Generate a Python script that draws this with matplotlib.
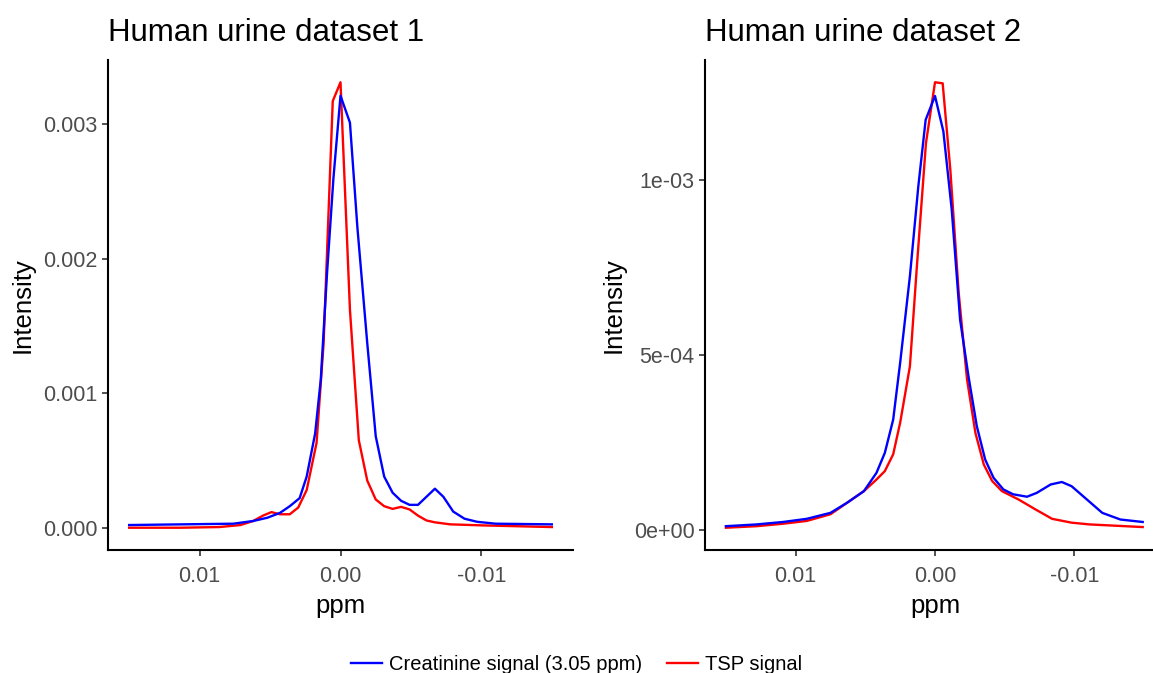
import matplotlib
matplotlib.use("Agg")
import matplotlib.pyplot as plt
from matplotlib.lines import Line2D

plt.rcParams['font.family'] = ['Liberation Sans', 'DejaVu Sans']
plt.rcParams['axes.unicode_minus'] = False

# dataset 1, creatinine signal (blue)
ppm_cr1 = [0.015, 0.0076, 0.0062, 0.0052, 0.0043, 0.0036, 0.0029, 0.0024, 0.0018,
           0.0014, 0.00095, 0.0005, 0.0, -0.00067, -0.0012, -0.0019, -0.0025,
           -0.0031, -0.0037, -0.0043, -0.0049, -0.0055, -0.0061, -0.0067, -0.0073,
           -0.008, -0.0088, -0.0097, -0.011, -0.015]
int_cr1 = [0.00002, 0.00003, 0.00005, 0.000074, 0.00011, 0.00016, 0.00022, 0.00038,
           0.0007, 0.0011, 0.0019, 0.0026, 0.00321, 0.00301, 0.00223, 0.00137,
           0.00068, 0.00038, 0.00026, 0.0002, 0.00017, 0.00017, 0.00023, 0.00029,
           0.00023, 0.00012, 0.000067, 0.000044, 0.00003, 0.000025]

# dataset 1, TSP signal (red)
ppm_tsp1 = [0.015, 0.0114, 0.0086, 0.0071, 0.0062, 0.0055, 0.0049, 0.0043, 0.0036,
            0.003, 0.0024, 0.0017, 0.0012, 0.00055, 0.0, -0.00067, -0.0013, -0.0019,
            -0.0025, -0.0031, -0.0037, -0.0043, -0.0049, -0.0055, -0.0061, -0.0067,
            -0.0078, -0.0102, -0.015]
int_tsp1 = [0.0, 0.0, 0.000005, 0.00002, 0.00005, 0.00009, 0.000116, 0.0001, 0.0001,
            0.00015, 0.00028, 0.00063, 0.00137, 0.00317, 0.00331, 0.00162, 0.00065,
            0.00035, 0.00021, 0.00016, 0.00014, 0.000155, 0.000136, 0.00009, 0.000054,
            0.00004, 0.000025, 0.000017, 0.000005]

# dataset 2, creatinine signal (blue)
ppm_cr2 = [0.015, 0.0128, 0.0109, 0.0092, 0.0075, 0.0063, 0.0051, 0.0042, 0.0036,
           0.003, 0.0025, 0.0018, 0.0012, 0.00067, 0.0, -0.0006, -0.0012, -0.0018,
           -0.0024, -0.003, -0.0036, -0.0042, -0.0049, -0.0056, -0.0066, -0.0073,
           -0.0083, -0.0091, -0.0098, -0.0109, -0.012, -0.0133, -0.0149]
int_cr2 = [1.2e-5, 1.7e-5, 2.4e-5, 3.3e-5, 5.0e-5, 7.9e-5, 1.12e-4, 1.64e-4, 2.21e-4,
           3.16e-4, 4.78e-4, 7.25e-4, 9.8e-4, 1.171e-3, 1.239e-3, 1.138e-3, 9.15e-4,
           6.01e-4, 4.4e-4, 2.97e-4, 2.02e-4, 1.5e-4, 1.17e-4, 1.03e-4, 9.6e-5, 1.07e-4,
           1.31e-4, 1.38e-4, 1.26e-4, 8.8e-5, 5.0e-5, 3.1e-5, 2.4e-5]

# dataset 2, TSP signal (red)
ppm_tsp2 = [0.015, 0.0128, 0.0109, 0.0092, 0.0075, 0.0063, 0.0051, 0.0042, 0.0036,
            0.003, 0.0025, 0.0018, 0.0013, 0.00065, 0.0, -0.00055, -0.0011, -0.0017,
            -0.0023, -0.0029, -0.0035, -0.0041, -0.0048, -0.006, -0.0072, -0.0084,
            -0.0098, -0.0111, -0.0149]
int_tsp2 = [7.6e-6, 1.2e-5, 1.9e-5, 2.7e-5, 4.6e-5, 7.9e-5, 1.12e-4, 1.45e-4, 1.69e-4,
            2.17e-4, 3.07e-4, 4.68e-4, 7.53e-4, 1.104e-3, 1.278e-3, 1.275e-3, 1.028e-3,
            6.77e-4, 4.3e-4, 2.78e-4, 1.88e-4, 1.41e-4, 1.12e-4, 8.8e-5, 6.0e-5, 3.3e-5,
            2.2e-5, 1.7e-5, 9.5e-6]

titles = ["Human urine dataset 1", "Human urine dataset 2"]
x_ticks = [0.01, 0.0, -0.01]
x_labels = ["0.01", "0.00", "-0.01"]
y_ticks1 = [0.0, 0.001, 0.002, 0.003]
y_labels1 = ["0.000", "0.001", "0.002", "0.003"]
y_ticks2 = [0.0, 5e-4, 1e-3]
y_labels2 = ["0e+00", "5e-04", "1e-03"]
series_names = ["Creatinine signal (3.05 ppm)", "TSP signal"]

W, H = 1153, 673
fig = plt.figure(figsize=(W / 100, H / 100), dpi=100)


def px_axes(left, right, top, bottom):
    return fig.add_axes([left / W, 1 - bottom / H, (right - left) / W, (bottom - top) / H])


ax1 = px_axes(108, 573, 60, 550)
ax2 = px_axes(705, 1165, 60, 550)

panels = [
    (ax1, ppm_cr1, int_cr1, ppm_tsp1, int_tsp1, y_ticks1, y_labels1),
    (ax2, ppm_cr2, int_cr2, ppm_tsp2, int_tsp2, y_ticks2, y_labels2),
]

for i, (ax, xc, yc, xt, yt, yt_pos, yt_lab) in enumerate(panels):
    ax.plot(xt, yt, color="#FF0000", lw=1.7)
    ax.plot(xc, yc, color="#0000FF", lw=1.7)
    ax.set_xlim(0.0165, -0.0165)
    lo = min(min(yc), min(yt))
    hi = max(max(yc), max(yt))
    pad = (hi - lo) * 0.05
    ax.set_ylim(lo - pad, hi + pad)
    ax.set_xticks(x_ticks)
    ax.set_xticklabels(x_labels)
    ax.set_yticks(yt_pos)
    ax.set_yticklabels(yt_lab)
    for s in ["top", "right"]:
        ax.spines[s].set_visible(False)
    for s in ["left", "bottom"]:
        ax.spines[s].set_linewidth(1.5)
        ax.spines[s].set_color("black")
    ax.tick_params(length=4.5, width=1.2, color="#333333", labelcolor="#4D4D4D",
                   labelsize=15.5, pad=3)
    ax.tick_params(axis="x", pad=7)
    ax.set_xlabel("ppm", fontsize=18.5, labelpad=5)
    ax.set_ylabel("Intensity", fontsize=18.5, labelpad=6)
    ax.set_title(titles[i], loc="left", fontsize=22.5, pad=14)

handles = [Line2D([], [], color="#0000FF", lw=1.7),
           Line2D([], [], color="#FF0000", lw=1.7)]
fig.legend(handles, series_names, loc="lower center", bbox_to_anchor=(0.5, -0.028),
           ncol=2, frameon=False, fontsize=14.5, handlelength=1.55,
           handletextpad=0.35, columnspacing=1.25)

fig.savefig("out.png", dpi=100)
